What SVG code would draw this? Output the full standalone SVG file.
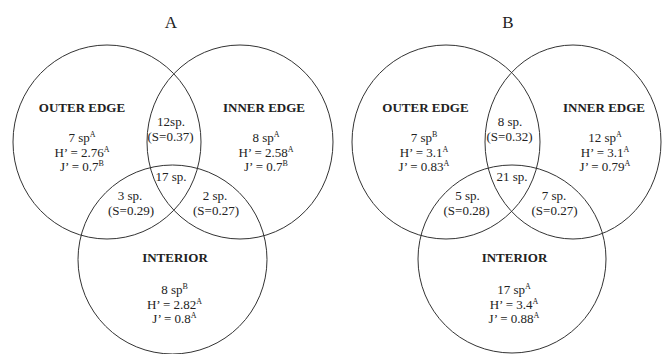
<svg xmlns="http://www.w3.org/2000/svg" width="662" height="354" viewBox="0 0 662 354">
<style>
text{font-family:"Liberation Serif","DejaVu Serif","Times New Roman",serif;fill:#222;text-anchor:middle}
.ttl{font-size:17px}
.hd{font-size:13px;font-weight:bold}
.t{font-size:13px}
.sp{font-size:8px}
.c{fill:none;stroke:#333;stroke-width:1}
</style>
<rect width="662" height="354" fill="#fff"/>
<g id="panelA">
<text id="titleA" class="ttl" x="171" y="28">A</text>
<g id="A-circles" class="connectors">
<ellipse class="c" cx="107" cy="142" rx="94" ry="97"/>
<ellipse class="c" cx="240" cy="142" rx="93" ry="97"/>
<ellipse class="c" cx="172.5" cy="259.5" rx="94.5" ry="94.5"/>
</g>
<g id="A-outer">
<text class="hd" x="82" y="112">OUTER EDGE</text>
<text class="t" x="82" y="142">7 sp<tspan class="sp" dy="-5">A</tspan></text>
<text class="t" x="82" y="157">H’ = 2.76<tspan class="sp" dy="-5">A</tspan></text>
<text class="t" x="82" y="171">J’ = 0.7<tspan class="sp" dy="-5">B</tspan></text>
</g>
<g id="A-inner">
<text class="hd" x="264" y="112">INNER EDGE</text>
<text class="t" x="266" y="142">8 sp<tspan class="sp" dy="-5">A</tspan></text>
<text class="t" x="266" y="157">H’ = 2.58<tspan class="sp" dy="-5">A</tspan></text>
<text class="t" x="266" y="171">J’ = 0.7<tspan class="sp" dy="-5">B</tspan></text>
</g>
<g id="A-interior">
<text class="hd" x="175" y="262">INTERIOR</text>
<text class="t" x="174.5" y="294">8 sp<tspan class="sp" dy="-5">B</tspan></text>
<text class="t" x="174.5" y="309">H’ = 2.82<tspan class="sp" dy="-5">A</tspan></text>
<text class="t" x="174.5" y="323">J’ = 0.8<tspan class="sp" dy="-5">A</tspan></text>
</g>
<g id="A-outer-inner">
<text class="t" x="171" y="125.5">12sp.</text>
<text class="t" x="170.5" y="140.5">(S=0.37)</text>
</g>
<g id="A-all">
<text class="t" x="171" y="181">17 sp.</text>
</g>
<g id="A-outer-interior">
<text class="t" x="130" y="200">3 sp.</text>
<text class="t" x="131" y="215">(S=0.29)</text>
</g>
<g id="A-inner-interior">
<text class="t" x="215" y="200">2 sp.</text>
<text class="t" x="216" y="215">(S=0.27)</text>
</g>
</g>
<g id="panelB">
<text id="titleB" class="ttl" x="508" y="28">B</text>
<g id="B-circles" class="connectors">
<ellipse class="c" cx="446" cy="142" rx="94" ry="97"/>
<ellipse class="c" cx="573" cy="142" rx="88" ry="97"/>
<ellipse class="c" cx="512" cy="259" rx="94" ry="94"/>
</g>
<g id="B-outer">
<text class="hd" x="425.5" y="112">OUTER EDGE</text>
<text class="t" x="424" y="142">7 sp<tspan class="sp" dy="-5">B</tspan></text>
<text class="t" x="424" y="157">H’ = 3.1<tspan class="sp" dy="-5">A</tspan></text>
<text class="t" x="424" y="171">J’ = 0.83<tspan class="sp" dy="-5">A</tspan></text>
</g>
<g id="B-inner">
<text class="hd" x="604" y="112">INNER EDGE</text>
<text class="t" x="605" y="142">12 sp<tspan class="sp" dy="-5">A</tspan></text>
<text class="t" x="605" y="157">H’ = 3.1<tspan class="sp" dy="-5">A</tspan></text>
<text class="t" x="605" y="171">J’ = 0.79<tspan class="sp" dy="-5">A</tspan></text>
</g>
<g id="B-interior">
<text class="hd" x="514.5" y="262">INTERIOR</text>
<text class="t" x="514" y="294">17 sp<tspan class="sp" dy="-5">A</tspan></text>
<text class="t" x="514" y="309">H’ = 3.4<tspan class="sp" dy="-5">A</tspan></text>
<text class="t" x="514" y="323">J’ = 0.88<tspan class="sp" dy="-5">A</tspan></text>
</g>
<g id="B-outer-inner">
<text class="t" x="510" y="125.5">8 sp.</text>
<text class="t" x="509.5" y="140.5">(S=0.32)</text>
</g>
<g id="B-all">
<text class="t" x="512" y="181">21 sp.</text>
</g>
<g id="B-outer-interior">
<text class="t" x="467.5" y="200">5 sp.</text>
<text class="t" x="466.5" y="215">(S=0.28)</text>
</g>
<g id="B-inner-interior">
<text class="t" x="554" y="200">7 sp.</text>
<text class="t" x="554.5" y="215">(S=0.27)</text>
</g>
</g>
</svg>
